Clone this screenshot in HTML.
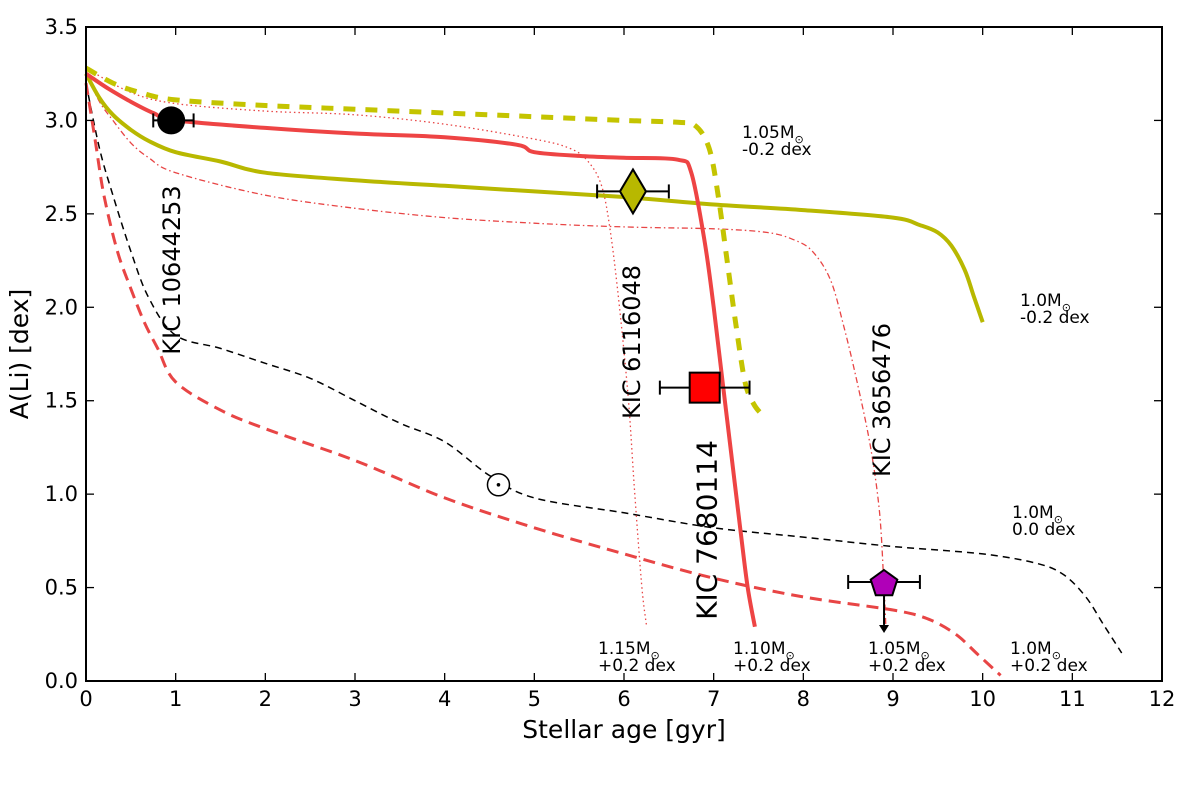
<!DOCTYPE html>
<html><head><meta charset="utf-8"><style>
body{margin:0;background:#fff}
svg{display:block;font-family:"DejaVu Sans","Liberation Sans",sans-serif}
</style></head><body>
<svg id="chart" width="1200" height="804">
<rect x="0" y="0" width="1200" height="804" fill="#fff"/>
<g id="curves"></g>
<g id="marks"></g>
<g id="axes"></g>
</svg>
<script>
const xTicks=[0,1,2,3,4,5,6,7,8,9,10,11,12];
const yTicks=[0.0,0.5,1.0,1.5,2.0,2.5,3.0,3.5];
const yel105Age=[0,0.3,0.6,1,2,3,4,5,6,6.6,6.8,6.95,7.05,7.15,7.25,7.35,7.45,7.57];
const yel105Li=[3.28,3.2,3.15,3.11,3.08,3.06,3.04,3.02,3.0,2.99,2.97,2.85,2.6,2.25,1.9,1.6,1.48,1.41];
const red110Age=[0,0.25,0.5,0.75,1,2,3,4,4.8,5,5.5,6,6.6,6.75,6.9,7.0,7.1,7.2,7.3,7.38,7.46];
const red110Li=[3.25,3.17,3.1,3.04,3.0,2.96,2.93,2.91,2.87,2.83,2.81,2.80,2.79,2.72,2.35,2.0,1.6,1.2,0.8,0.5,0.29];
const yel100Age=[0,0.15,0.3,0.5,0.7,1,1.5,2,3,4,5,6,7,8,9,9.3,9.5,9.65,9.8,9.9,10];
const yel100Li=[3.25,3.12,3.03,2.95,2.89,2.83,2.78,2.72,2.68,2.65,2.62,2.59,2.55,2.52,2.48,2.44,2.4,2.33,2.2,2.06,1.92];
const red115Age=[0,0.5,1,2,3,4,5,5.4,5.6,5.75,5.85,5.95,6.05,6.12,6.2,6.25];
const red115Li=[3.28,3.15,3.09,3.05,3.03,2.98,2.9,2.85,2.78,2.65,2.4,2.0,1.5,1.0,0.5,0.3];
const red105Age=[0,0.15,0.3,0.5,0.7,1,2,3,4,5,6,7,7.6,7.9,8.1,8.3,8.45,8.6,8.75,8.85,8.9,8.92];
const red105Li=[3.25,3.1,3.0,2.88,2.8,2.72,2.6,2.53,2.48,2.45,2.43,2.42,2.4,2.36,2.3,2.15,1.9,1.6,1.25,0.9,0.5,0.3];
const red100Age=[0,0.1,0.2,0.35,0.5,0.65,0.8,1,1.5,2,3,4,5,6,7,8,9,9.4,9.7,9.95,10.2];
const red100Li=[3.2,2.9,2.6,2.3,2.1,1.92,1.78,1.6,1.45,1.35,1.18,0.98,0.82,0.68,0.55,0.45,0.38,0.33,0.25,0.14,0.03];
const blk100Age=[0,0.15,0.3,0.5,0.7,1,1.5,2,2.5,3,3.5,4,4.5,5,6,7,8,9,10,10.6,10.9,11.15,11.35,11.55];
const blk100Li=[3.2,2.85,2.6,2.3,2.05,1.85,1.78,1.7,1.62,1.5,1.38,1.28,1.1,0.98,0.9,0.82,0.77,0.72,0.68,0.63,0.57,0.45,0.3,0.15];
const starNames=["KIC 10644253","KIC 6116048","KIC 7680114","KIC 3656476"];
const starAge=[0.95,6.1,6.9,8.9];
const starLi=[3.0,2.62,1.57,0.53];
const starAgeLo=[0.75,5.7,6.4,8.5];
const starAgeHi=[1.2,6.5,7.4,9.3];

const NS="http://www.w3.org/2000/svg";
const X0=86,X1=1162,Y0=681,Y1=27;
const sx=v=>X0+(X1-X0)*v/12;
const sy=v=>Y0-(Y0-Y1)*v/3.5;
function mk(t,a,p){const e=document.createElementNS(NS,t);for(const k in a)e.setAttribute(k,a[k]);p.appendChild(e);return e;}
const curves=document.getElementById('curves'),marks=document.getElementById('marks'),axes=document.getElementById('axes');
function smoothPath(ages,li){
  const P=ages.map((a,i)=>[sx(a),sy(li[i])]);
  let d='M'+P[0][0].toFixed(1)+','+P[0][1].toFixed(1);
  for(let i=0;i<P.length-1;i++){
    const p0=P[i-1]||P[i],p1=P[i],p2=P[i+1],p3=P[i+2]||p2;
    const c1=[p1[0]+(p2[0]-p0[0])/6,p1[1]+(p2[1]-p0[1])/6];
    const c2=[p2[0]-(p3[0]-p1[0])/6,p2[1]-(p3[1]-p1[1])/6];
    d+=` C${c1[0].toFixed(1)},${c1[1].toFixed(1)} ${c2[0].toFixed(1)},${c2[1].toFixed(1)} ${p2[0].toFixed(1)},${p2[1].toFixed(1)}`;
  }
  return d;
}
function track(ages,li,stroke,w,dash,name){
  const p=mk('path',{d:smoothPath(ages,li),fill:'none',stroke:stroke,'stroke-width':w,'stroke-dasharray':dash,'stroke-linejoin':'round'},curves);
  
  
}
track(blk100Age,blk100Li,'#000',1.5,'7,5','track-1.0m-0.0dex');
track(red100Age,red100Li,'#e84545',3,'12,7','track-1.0m-plus0.2dex');
track(red105Age,red105Li,'#e84545',1.3,'6,3,1.5,3','track-1.05m-plus0.2dex');
track(red115Age,red115Li,'#e84545',1.3,'1.5,3','track-1.15m-plus0.2dex');
track(yel100Age,yel100Li,'#b8b800',4,'none','track-1.0m-minus0.2dex');
track(red110Age,red110Li,'#ee4444',4,'none','track-1.10m-plus0.2dex');
track(yel105Age,yel105Li,'#c4c400',5,'12,10','track-1.05m-minus0.2dex');

for(let i=0;i<starAge.length;i++){
  const y=sy(starLi[i]);
  const l=mk('line',{x1:sx(starAgeLo[i]),x2:sx(starAgeHi[i]),y1:y,y2:y,stroke:'#000','stroke-width':2},marks);
  
  
  [starAgeLo[i],starAgeHi[i]].forEach(v=>mk('line',{x1:sx(v),x2:sx(v),y1:y-7,y2:y+7,stroke:'#000','stroke-width':2},marks));
}
let cx=sx(starAge[0]),cy=sy(starLi[0]);
let m=mk('circle',{cx:cx,cy:cy,r:14,fill:'#000'},marks);


cx=sx(starAge[1]);cy=sy(starLi[1]);
m=mk('polygon',{points:`${cx},${cy-22} ${cx+13},${cy} ${cx},${cy+22} ${cx-13},${cy}`,fill:'#b8b800',stroke:'#000','stroke-width':2},marks);


cx=sx(starAge[2]);cy=sy(starLi[2]);
m=mk('rect',{x:cx-15,y:cy-15,width:30,height:30,fill:'#f00',stroke:'#000','stroke-width':2},marks);


cx=sx(starAge[3]);cy=sy(starLi[3]);
let pts=[];for(let k=0;k<5;k++){const a=-Math.PI/2+k*2*Math.PI/5;pts.push((cx+14*Math.cos(a)).toFixed(1)+','+(cy+2+14*Math.sin(a)).toFixed(1));}
mk('line',{x1:cx,x2:cx,y1:cy+12,y2:sy(0.3),stroke:'#000','stroke-width':2},marks);
mk('polygon',{points:`${cx-5},${sy(0.3)} ${cx+5},${sy(0.3)} ${cx},${sy(0.3)+8}`,fill:'#000'},marks);
m=mk('polygon',{points:pts.join(' '),fill:'#b000b8',stroke:'#000','stroke-width':2},marks);


m=mk('circle',{cx:sx(4.6),cy:sy(1.05),r:11,fill:'#fff',stroke:'#000','stroke-width':1.5},marks);


mk('circle',{cx:sx(4.6),cy:sy(1.05),r:1.8,fill:'#000'},marks);

const lblPos=[[172,270,24],[632,342,24],[707,530,28],[882,400,24]];
starNames.forEach((n,i)=>{
  const [x,y,fs]=lblPos[i];
  const t=mk('text',{x:x,y:y,'font-size':fs,'text-anchor':'middle','dominant-baseline':'central',transform:`rotate(-90 ${x} ${y})`},marks);
  t.textContent=n;
  
  
});
const trackLbl=[["1.05M","-0.2 dex",742,138],["1.0M","-0.2 dex",1020,306],["1.0M","0.0 dex",1012,518],["1.15M","+0.2 dex",598,654],["1.10M","+0.2 dex",733,654],["1.05M","+0.2 dex",868,654],["1.0M","+0.2 dex",1010,654]];
trackLbl.forEach(([a,b,x,y])=>{
  const t=mk('text',{x:x,y:y,'font-size':17},marks);
  t.textContent=a;
  
  
  const s=mk('tspan',{'font-size':11,dy:5},t);s.textContent='\u2299';
  const t2=mk('text',{x:x,y:y+17,'font-size':17},marks);t2.textContent=b;
});

const f=mk('rect',{x:X0,y:Y1,width:X1-X0,height:Y0-Y1,fill:'none',stroke:'#000','stroke-width':2},axes);


xTicks.forEach(v=>{
  const x=sx(v);
  mk('line',{x1:x,x2:x,y1:Y0,y2:Y0-8,stroke:'#000','stroke-width':1.3},axes);
  mk('line',{x1:x,x2:x,y1:Y1,y2:Y1+8,stroke:'#000','stroke-width':1.3},axes);
  const t=mk('text',{x:x,y:Y0+25,'font-size':21,'text-anchor':'middle'},axes);
  t.textContent=v;
  
  
});
yTicks.forEach(v=>{
  const y=sy(v);
  mk('line',{x1:X0,x2:X0+8,y1:y,y2:y,stroke:'#000','stroke-width':1.3},axes);
  mk('line',{x1:X1,x2:X1-8,y1:y,y2:y,stroke:'#000','stroke-width':1.3},axes);
  const t=mk('text',{x:X0-8,y:y+7,'font-size':21,'text-anchor':'end'},axes);
  t.textContent=v.toFixed(1);
  
  
});
let t=mk('text',{x:(X0+X1)/2,y:738,'font-size':25,'text-anchor':'middle'},axes);
t.textContent='Stellar age [gyr]';


t=mk('text',{x:28,y:354,'font-size':25,'text-anchor':'middle',transform:'rotate(-90 28 354)'},axes);
t.textContent='A(Li) [dex]';


</script>
</body></html>
